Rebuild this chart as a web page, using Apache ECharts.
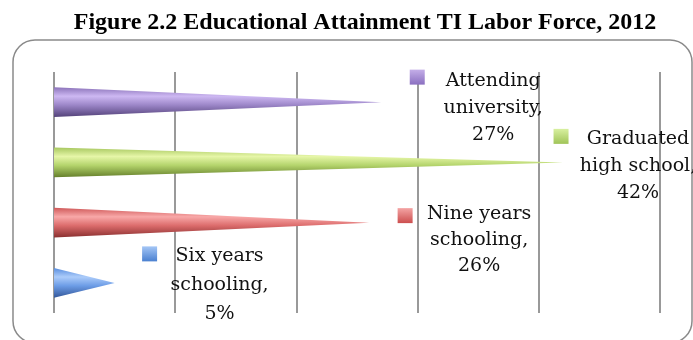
<!DOCTYPE html>
<html>
<head>
<meta charset="utf-8">
<script src="https://cdn.jsdelivr.net/npm/echarts@6/dist/echarts.min.js"></script>
<style>html,body{margin:0;padding:0;background:#fff;}#c{width:693px;height:340px;}</style>
</head>
<body>
<div id="c"></div>
<script>
// ---- data ----
var categories = ['Attending\nuniversity', 'Graduated\nhigh school', 'Nine years\nschooling', 'Six years\nschooling'];
var values = [27, 42, 26, 5];
var xTicks = [0, 10, 20, 30, 40, 50];

// ---- styles / layout (not data) ----
var palettes = [
  {top:'#8c74ba', hi:'#cdb8f2', mid:'#9c86c8', bot:'#54437a', keyTop:'#c4aee8', keyBot:'#8a6fc0'},
  {top:'#a8c860', hi:'#e6f6a8', mid:'#b4d46c', bot:'#66802c', keyTop:'#d8f0a0', keyBot:'#a0c458'},
  {top:'#d05a5a', hi:'#f8a8a8', mid:'#dc6c6c', bot:'#8a3030', keyTop:'#f4a4a4', keyBot:'#cc4e4e'},
  {top:'#5a8ede', hi:'#acccfa', mid:'#6c9ce6', bot:'#34589a', keyTop:'#a4c6f6', keyBot:'#4a80d0'}
];
// label placement relative to each cone tip (px): key square centre and text block top-centre
var labelOffsets = [
  {kx:36, ky:-25, tx:112, ty:-35, lh:27},
  {kx:-2, ky:-26, tx:75, ty:-37, lh:27},
  {kx:36, ky:-7, tx:110, ty:-22, lh:26},
  {kx:35, ky:-29, tx:105, ty:-41, lh:29}
];

var chart = echarts.init(document.getElementById('c'), null, {renderer:'canvas'});

function renderCone(params, api) {
  var i = params.dataIndex;
  var v = api.value(1);
  var cat = api.value(0);
  var base = api.coord([0, cat]);
  var tip = api.coord([v, cat]);
  var band = api.size([0, 1])[1];
  var h = band * 0.49;
  var p = palettes[i];
  var o = labelOffsets[i];
  var grad = new echarts.graphic.LinearGradient(0, 0, 0, 1, [
    {offset:0, color:p.top},
    {offset:0.3, color:p.hi},
    {offset:0.6, color:p.mid},
    {offset:1, color:p.bot}
  ]);
  var keyGrad = new echarts.graphic.LinearGradient(0, 0, 0, 1, [
    {offset:0, color:p.keyTop},
    {offset:1, color:p.keyBot}
  ]);
  return {
    type:'group',
    children:[
      {
        type:'polygon',
        shape:{points:[[base[0], base[1]-h/2],[base[0], base[1]+h/2],[tip[0], tip[1]]]},
        style:{fill:grad}
      },
      {
        type:'rect',
        shape:{x:tip[0]+o.kx-7.5, y:tip[1]+o.ky-7.5, width:15, height:15},
        style:{fill:keyGrad}
      },
      {
        type:'text',
        x: tip[0]+o.tx,
        y: tip[1]+o.ty,
        style:{
          text: categories[i] + ',\n' + v + '%',
          fill:'#111',
          font:'19px "DejaVu Serif", serif',
          align:'center',
          verticalAlign:'top',
          lineHeight:o.lh
        }
      }
    ]
  };
}

chart.setOption({
  animation:false,
  title:{
    text:'Figure 2.2 Educational Attainment TI Labor Force, 2012',
    left:360, top:6, textAlign:'center',
    textStyle:{fontFamily:'"Liberation Serif", serif', fontWeight:'bold', fontSize:24, color:'#000'}
  },
  graphic:[{
    type:'rect', z:-1,
    shape:{x:13, y:40, width:679, height:303, r:22},
    style:{fill:'none', stroke:'#8a8a8a', lineWidth:1.5}
  }],
  grid:{left:54, right:33, top:72, bottom:27},
  xAxis:{
    type:'value', min:xTicks[0], max:xTicks[xTicks.length-1], interval:10,
    axisLine:{show:false}, axisTick:{show:false}, axisLabel:{show:false},
    splitLine:{show:true, lineStyle:{color:'#999', width:2}}
  },
  yAxis:{
    type:'category', data:categories, inverse:true,
    axisLine:{show:false}, axisTick:{show:false}, axisLabel:{show:false}, splitLine:{show:false}
  },
  series:[{
    type:'custom',
    renderItem:renderCone,
    encode:{x:1, y:0},
    data:values.map(function(v, i){ return [i, v]; }),
    clip:false
  }]
});
</script>
</body>
</html>
